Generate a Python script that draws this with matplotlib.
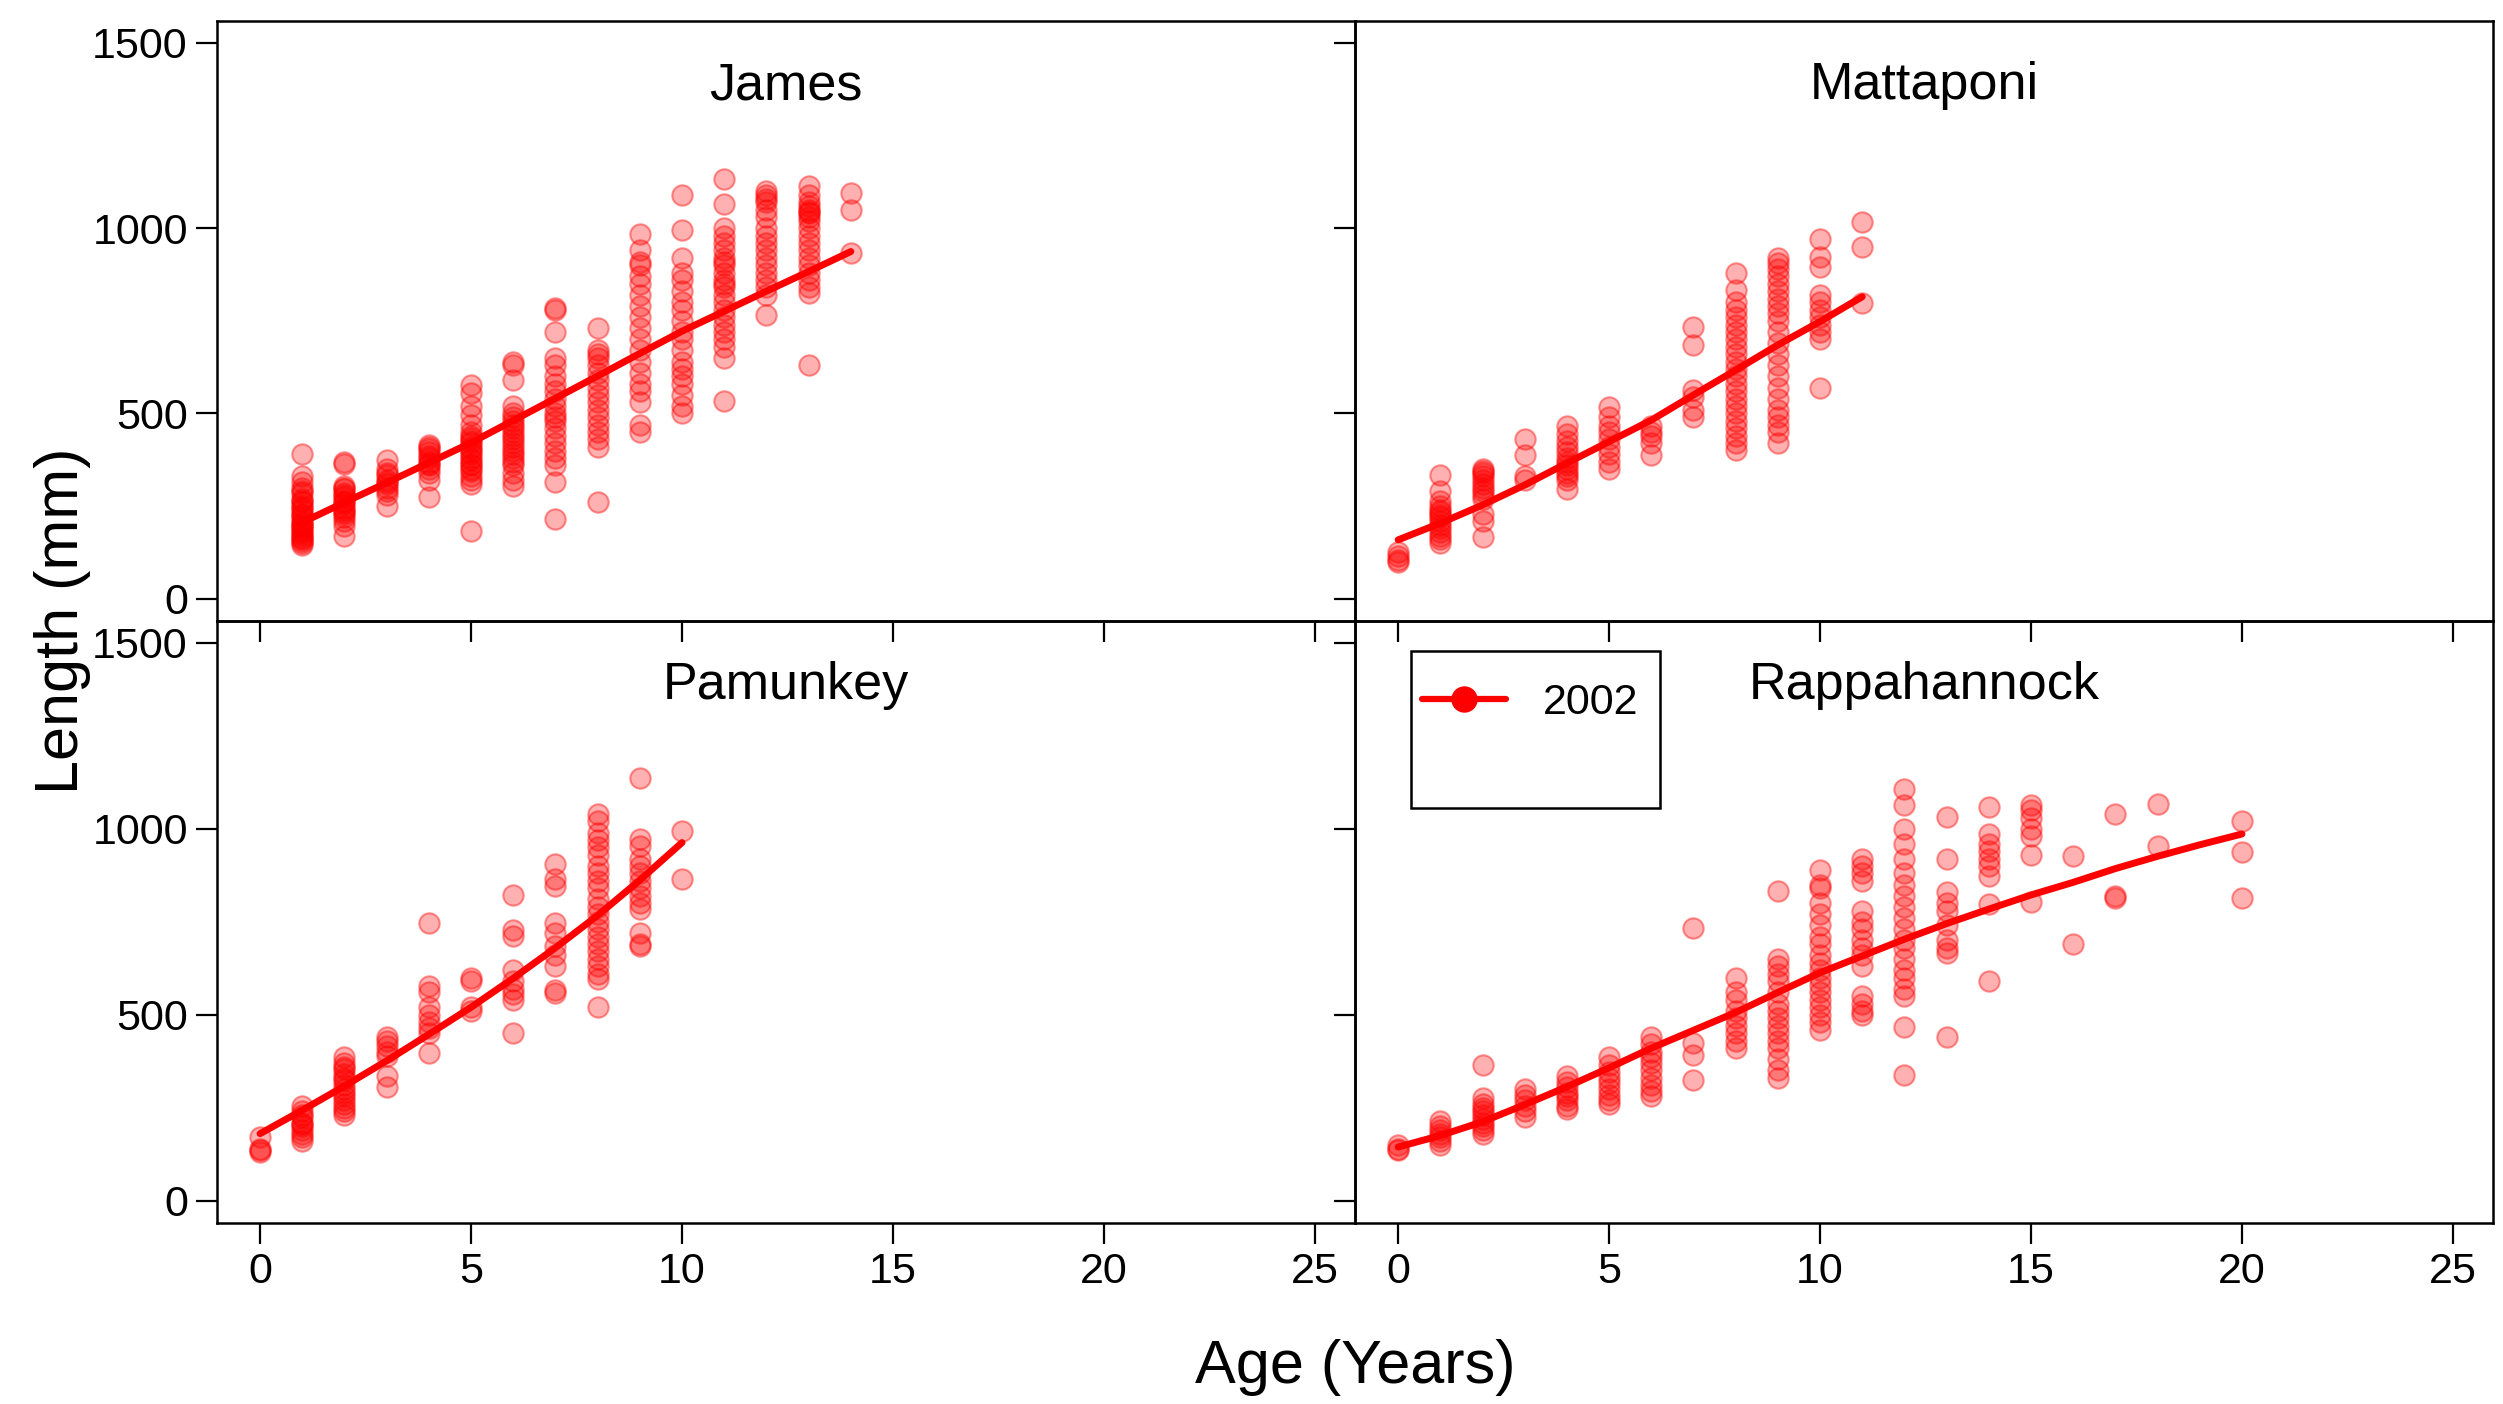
import matplotlib
matplotlib.use("Agg")
import matplotlib.pyplot as plt
from matplotlib.lines import Line2D
from matplotlib.patches import Rectangle

plt.rcParams['font.family'] = ['Liberation Sans', 'DejaVu Sans']

# ---- Length-at-age data (mm), one list of lengths per age class ----
james_ages = list(range(1, 15))
james_lengths = [
    [390, 330, 315, 300, 290, 285, 270, 265, 260, 250, 245, 240, 230, 225, 220, 210, 205, 200, 195, 190,
     185, 180, 175, 170, 165, 160, 155, 150, 145],
    [368, 365, 305, 300, 295, 285, 280, 275, 265, 260, 255, 245, 240, 235, 230, 220, 210, 197, 170],
    [375, 350, 340, 335, 320, 315, 310, 300, 290, 280, 250],
    [415, 410, 405, 395, 385, 380, 370, 365, 360, 350, 340, 320, 275],
    [578, 555, 520, 495, 470, 450, 440, 435, 425, 420, 410, 405, 395, 390, 380, 375, 365, 360, 350,
     345, 330, 320, 310, 184],
    [640, 630, 590, 520, 500, 490, 480, 470, 460, 450, 440, 430, 420, 410, 400, 390, 380, 370, 360,
     340, 320, 305],
    [785, 780, 720, 650, 630, 600, 580, 560, 540, 520, 500, 490, 480, 460, 440, 420, 400, 380, 360, 314, 215],
    [730, 670, 660, 650, 630, 610, 590, 570, 550, 530, 510, 490, 470, 450, 430, 410, 260],
    [985, 940, 910, 900, 870, 850, 820, 790, 760, 730, 700, 670, 640, 610, 580, 560, 530, 470, 450],
    [1090, 995, 920, 880, 860, 830, 800, 780, 750, 720, 700, 670, 640, 620, 600, 580, 550, 520, 500],
    [1132, 1065, 1000, 980, 960, 940, 920, 910, 900, 880, 860, 850, 840, 820, 800, 780, 760, 740, 720,
     700, 680, 650, 535],
    [1100, 1090, 1080, 1070, 1050, 1030, 1000, 980, 960, 940, 920, 900, 880, 860, 840, 820, 767],
    [1115, 1090, 1070, 1060, 1050, 1045, 1040, 1030, 1020, 1000, 980, 960, 940, 920, 900, 880, 860,
     840, 825, 632],
    [1094, 1050, 933],
]
james_fit = [206, 260, 313, 367, 421, 481, 541, 601, 662, 722, 776, 830, 883, 937]

mattaponi_ages = list(range(0, 12))
mattaponi_lengths = [
    [125, 115, 105, 100],
    [334, 290, 265, 250, 240, 235, 225, 220, 210, 200, 190, 180, 170, 160, 150],
    [350, 345, 340, 330, 320, 310, 300, 290, 280, 270, 230, 210, 168],
    [430, 388, 330, 320],
    [465, 445, 425, 410, 395, 380, 370, 360, 350, 340, 330, 320, 295],
    [518, 490, 465, 450, 430, 410, 390, 370, 350],
    [465, 450, 438, 420, 388],
    [734, 685, 563, 545, 509, 491],
    [878, 833, 800, 780, 760, 740, 720, 700, 680, 660, 640, 620, 600, 580, 560, 540, 520, 500, 480,
     460, 440, 420, 402],
    [920, 905, 890, 870, 850, 830, 810, 790, 770, 750, 720, 690, 660, 630, 600, 570, 540, 510, 490,
     470, 450, 420],
    [972, 923, 896, 820, 800, 780, 760, 740, 720, 700, 568],
    [1017, 950, 797],
]
mattaponi_fit = [159, 204, 253, 307, 366, 424, 482, 550, 617, 685, 748, 815]

pamunkey_ages = list(range(0, 11))
pamunkey_lengths = [
    [170, 140, 135, 130],
    [255, 240, 230, 225, 210, 205, 200, 190, 180, 170, 160],
    [385, 370, 360, 355, 340, 330, 325, 310, 300, 290, 280, 270, 260, 250, 240, 230],
    [440, 430, 415, 400, 390, 335, 305],
    [747, 576, 560, 520, 500, 480, 465, 450, 396],
    [600, 590, 520, 510],
    [823, 729, 711, 621, 590, 570, 555, 540, 450],
    [904, 864, 846, 747, 720, 684, 660, 630, 567, 558],
    [1040, 1020, 990, 970, 950, 930, 900, 880, 860, 840, 810, 790, 770, 750, 730, 710, 690, 670,
     650, 630, 610, 595, 522],
    [1138, 972, 954, 918, 900, 880, 860, 840, 820, 800, 783, 720, 690, 684],
    [995, 864],
]
pamunkey_fit = [180, 243, 308, 376, 447, 520, 598, 680, 767, 862, 963]

rappahannock_ages = [0, 1, 2, 3, 4, 5, 6, 7, 8, 9, 10, 11, 12, 13, 14, 15, 16, 17, 18, 20]
rappahannock_lengths = [
    [150, 140, 135],
    [215, 200, 190, 180, 170, 160, 150],
    [365, 275, 260, 250, 240, 230, 220, 210, 200, 190, 180],
    [300, 285, 270, 255, 240, 225],
    [335, 320, 305, 290, 280, 270, 255, 245],
    [385, 365, 345, 330, 315, 300, 285, 270, 260],
    [440, 420, 400, 385, 370, 350, 330, 310, 295, 280],
    [734, 423, 392, 324],
    [600, 560, 540, 510, 490, 470, 450, 430, 410],
    [833, 650, 630, 610, 590, 560, 530, 510, 490, 470, 450, 430, 410, 380, 350, 330],
    [890, 850, 840, 800, 770, 740, 710, 690, 660, 640, 620, 600, 580, 560, 540, 520, 500, 480, 460],
    [920, 900, 880, 860, 780, 750, 730, 700, 680, 660, 630, 550, 530, 510, 500],
    [1108, 1063, 1000, 960, 920, 880, 850, 820, 790, 760, 730, 700, 680, 650, 620, 600, 570, 550,
     468, 338],
    [1031, 919, 829, 800, 780, 740, 700, 680, 667, 441],
    [1059, 985, 960, 940, 920, 900, 874, 797, 590],
    [1065, 1050, 1030, 1000, 980, 930, 802],
    [928, 689],
    [1040, 820, 815],
    [1068, 955],
    [1022, 937, 815],
]
rappahannock_fit_ages = list(range(0, 21))
rappahannock_fit = [144, 175, 212, 258, 306, 357, 410, 458, 506, 560, 613, 658, 703,
                    745, 784, 822, 856, 893, 926, 957, 986]

panel_titles = ["James", "Mattaponi", "Pamunkey", "Rappahannock"]
legend_label = "2002"
x_ticks = [0, 5, 10, 15, 20, 25]
y_ticks = [0, 500, 1000, 1500]

panels = [
    (james_ages, james_lengths, james_ages, james_fit),
    (mattaponi_ages, mattaponi_lengths, mattaponi_ages, mattaponi_fit),
    (pamunkey_ages, pamunkey_lengths, pamunkey_ages, pamunkey_fit),
    (rappahannock_ages, rappahannock_lengths, rappahannock_fit_ages, rappahannock_fit),
]

# ---- Figure layout ----
fig = plt.figure(figsize=(25.03, 14.04), dpi=100)
left, mid_x, right = 0.0867, 0.5414, 0.996
bottom, mid_y, top = 0.129, 0.5577, 0.985
boxes = [
    (left, mid_y, mid_x - left, top - mid_y),
    (mid_x, mid_y, right - mid_x, top - mid_y),
    (left, bottom, mid_x - left, mid_y - bottom),
    (mid_x, bottom, right - mid_x, mid_y - bottom),
]

RED = "#ff0000"
axes = []
for i, (box, (ages, lengths, fit_ages, fit), title) in enumerate(zip(boxes, panels, panel_titles)):
    ax = fig.add_axes(box)
    axes.append(ax)
    xs, ys = [], []
    for a, vals in zip(ages, lengths):
        xs.extend([a] * len(vals))
        ys.extend(vals)
    ax.scatter(xs, ys, s=215, facecolor=(1, 0, 0, 0.31), edgecolor=(1, 0, 0, 0.42),
               linewidth=1.5, zorder=2)
    ax.plot(fit_ages, fit, color=RED, lw=5, solid_capstyle='round',
            solid_joinstyle='round', zorder=3)

    ax.set_xlim(-1.02, 25.95)
    ax.set_ylim(-60, 1559)
    ax.set_xticks(x_ticks)
    ax.set_yticks(y_ticks)
    ax.tick_params(direction='out', length=15, width=1.6, labelsize=31, pad=6,
                   color='black')
    for sp in ax.spines.values():
        sp.set_linewidth(1.8)
        sp.set_color('black')
    if i in (0, 1):
        ax.tick_params(labelbottom=False)
    if i in (1, 3):
        ax.tick_params(labelleft=False)
    ax.text(0.5, 0.87, title, transform=ax.transAxes, ha='center', va='baseline',
            fontsize=37.5)
    ax.patch.set_alpha(0)

# Legend in the Rappahannock panel
ax = axes[3]
ax.add_patch(Rectangle((0.049, 0.689), 0.219, 0.261, transform=ax.transAxes,
                       facecolor='white', edgecolor='black', linewidth=1.8, zorder=5))
handle = Line2D([], [], color=RED, lw=4.5, marker='o', markersize=18,
                markerfacecolor=RED, markeredgecolor=RED, solid_capstyle='round')
leg = ax.legend([handle], [legend_label], loc='center left',
                bbox_to_anchor=(0.0589, 0.864), frameon=False, fontsize=31,
                borderpad=0, borderaxespad=0, handlelength=1.95, handletextpad=0.86)
leg.set_zorder(6)

fig.text(0.5414, 0.026, "Age (Years)", ha='center', va='center', fontsize=44)
fig.text(0.025, 0.558, "Length (mm)", ha='center', va='center', rotation=90,
         fontsize=44)

fig.savefig("out.png", dpi=100)
